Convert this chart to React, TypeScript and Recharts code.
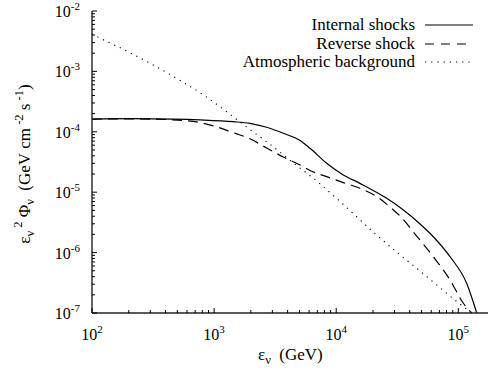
import React from 'react';
import { LineChart, Line, XAxis, YAxis, Legend } from 'recharts';

// Internal shocks (solid)
const internalX = [100, 205, 460, 767, 1435, 1967, 2690, 3690, 5060, 6100, 8350, 11430, 15660, 25900, 35500, 48600, 62400, 85500, 117000, 141500];
const internalY = [1.62e-4, 1.65e-4, 1.62e-4, 1.57e-4, 1.47e-4, 1.38e-4, 1.19e-4, 9.45e-5, 7.18e-5, 5.33e-5, 3.01e-5, 1.93e-5, 1.40e-5, 7.92e-6, 5.07e-6, 2.98e-6, 1.83e-6, 8.55e-7, 3.1e-7, 1.0e-7];

// Reverse shock (dashed)
const reverseX = [100, 205, 460, 767, 1050, 1435, 1967, 2690, 3690, 5060, 6100, 8350, 11430, 15660, 21500, 29400, 33300, 45600, 62400, 85500, 110000, 128800];
const reverseY = [1.62e-4, 1.64e-4, 1.58e-4, 1.42e-4, 1.21e-4, 9.66e-5, 7.66e-5, 5.4e-5, 3.83e-5, 2.82e-5, 2.29e-5, 1.81e-5, 1.44e-5, 1.16e-5, 8.42e-6, 5.07e-6, 4.04e-6, 1.88e-6, 8.55e-7, 3.52e-7, 1.45e-7, 1.0e-7];

// Atmospheric background (dotted)
const atmX = [100, 113, 178, 314, 549, 842, 1267, 1906, 2870, 4320, 6920, 9470, 12970, 20100, 31300, 48600, 75300, 103000, 128800];
const atmY = [4.2e-3, 3.67e-3, 2.35e-3, 1.29e-3, 6.75e-4, 3.92e-4, 2.15e-4, 1.14e-4, 6.21e-5, 3.2e-5, 1.53e-5, 8.8e-6, 4.97e-6, 2.19e-6, 1.02e-6, 4.95e-7, 2.36e-7, 1.41e-7, 1.0e-7];

const seriesNames = ['Internal shocks', 'Reverse shock', 'Atmospheric background'];

const xTicks = [100, 200, 300, 400, 500, 600, 700, 800, 900, 1000, 2000, 3000, 4000, 5000, 6000, 7000, 8000, 9000, 10000, 20000, 30000, 40000, 50000, 60000, 70000, 80000, 90000, 100000];
const yTicks = [1e-7, 2e-7, 3e-7, 4e-7, 5e-7, 6e-7, 7e-7, 8e-7, 9e-7, 1e-6, 2e-6, 3e-6, 4e-6, 5e-6, 6e-6, 7e-6, 8e-6, 9e-6, 1e-5, 2e-5, 3e-5, 4e-5, 5e-5, 6e-5, 7e-5, 8e-5, 9e-5, 1e-4, 2e-4, 3e-4, 4e-4, 5e-4, 6e-4, 7e-4, 8e-4, 9e-4, 1e-3, 2e-3, 3e-3, 4e-3, 5e-3, 6e-3, 7e-3, 8e-3, 9e-3, 1e-2];

const X_DOMAIN: [number, number] = [100, 175000];
const Y_DOMAIN: [number, number] = [1e-7, 1e-2];

const FONT = '"Liberation Serif", "DejaVu Serif", serif';

const toPoints = (xs: number[], ys: number[]) => xs.map((x, i) => ({ x, y: ys[i] }));
const internalData = toPoints(internalX, internalY);
const reverseData = toPoints(reverseX, reverseY);
const atmData = toPoints(atmX, atmY);

const decadeOf = (v: number) => {
  const l = Math.log10(v);
  const e = Math.round(l);
  return { e, major: Math.abs(l - e) < 1e-6 };
};

const BottomTick = (props: any) => {
  const { x, y, payload } = props;
  const { e, major } = decadeOf(payload.value);
  return (
    <g>
      <line x1={x} x2={x} y1={y} y2={y - (major ? 5 : 3)} stroke="#000" strokeWidth={1} />
      {major && (
        <text x={x} y={y + 27} textAnchor="middle" fontSize={16} fontFamily={FONT} fill="#000">
          10<tspan dy={-7} fontSize={11}>{e}</tspan>
        </text>
      )}
    </g>
  );
};

const TopTick = (props: any) => {
  const { x, y, payload } = props;
  const { major } = decadeOf(payload.value);
  return <line x1={x} x2={x} y1={y} y2={y + (major ? 5 : 3)} stroke="#000" strokeWidth={1} />;
};

const LeftTick = (props: any) => {
  const { x, y, payload } = props;
  const { e, major } = decadeOf(payload.value);
  return (
    <g>
      <line x1={x} x2={x + (major ? 5 : 3)} y1={y} y2={y} stroke="#000" strokeWidth={1} />
      {major && (
        <text x={x - 12} y={y + 6} textAnchor="end" fontSize={16} fontFamily={FONT} fill="#000">
          10<tspan dy={-7} fontSize={11}>{`-${Math.abs(e)}`}</tspan>
        </text>
      )}
    </g>
  );
};

const YLabel = () => (
  <text transform="translate(30,164) rotate(-90)" textAnchor="middle" fontSize={17} fontFamily={FONT} fill="#000">
    ε<tspan dy={4} fontSize={12.5}>ν</tspan>
    <tspan dy={-12} fontSize={12.5}>{'\u00a02'}</tspan>
    <tspan dy={8}>{'\u00a0Φ'}</tspan>
    <tspan dy={4} fontSize={12.5}>ν</tspan>
    <tspan dy={-4}>{'\u00a0\u00a0(GeV\u00a0cm'}</tspan>
    <tspan dy={-7} fontSize={12.5}>{'\u00a0-2'}</tspan>
    <tspan dy={7}>{'\u00a0s'}</tspan>
    <tspan dy={-7} fontSize={12.5}>{'\u00a0-1'}</tspan>
    <tspan dy={7}>)</tspan>
  </text>
);

const XLabel = () => (
  <text x={258} y={360} textAnchor="start" fontSize={17} fontFamily={FONT} fill="#000">
    ε<tspan dy={4} fontSize={12.5}>ν</tspan>
    <tspan dy={-4}>{'\u00a0\u00a0(GeV)'}</tspan>
  </text>
);

const legendStyles = [
  { dash: undefined as string | undefined },
  { dash: '9 7' },
  { dash: '1.2 5' },
];

const LegendContent = () => (
  <div style={{ fontFamily: FONT, fontSize: 17, color: '#000' }}>
    {seriesNames.map((name, i) => (
      <div
        key={name}
        style={{ display: 'flex', alignItems: 'center', justifyContent: 'flex-end', height: 18.4, whiteSpace: 'nowrap' }}
      >
        <span style={{ lineHeight: '18px' }}>{name}</span>
        <svg width={58} height={10} style={{ display: 'block' }}>
          <line x1={10} x2={58} y1={5} y2={5} stroke="#000" strokeWidth={1.1} strokeDasharray={legendStyles[i].dash} />
        </svg>
      </div>
    ))}
  </div>
);

export default function App() {
  return (
    <div style={{ position: 'absolute', left: 0, top: 0, width: 488, height: 375, background: '#fff' }}>
      <LineChart width={488} height={375} margin={{ top: 11, right: 0, bottom: 0, left: 0 }}>
        <XAxis
          dataKey="x"
          type="number"
          scale="log"
          domain={X_DOMAIN}
          allowDataOverflow
          ticks={xTicks}
          interval={0}
          height={62}
          tickSize={0}
          tickMargin={0}
          tickLine={false}
          tick={<BottomTick />}
          axisLine={{ stroke: '#222', strokeWidth: 1.4 }}
          label={{ content: () => <XLabel /> }}
        />
        <XAxis
          xAxisId="top"
          orientation="top"
          dataKey="x"
          type="number"
          scale="log"
          domain={X_DOMAIN}
          allowDataOverflow
          ticks={xTicks}
          interval={0}
          height={0}
          tickSize={0}
          tickMargin={0}
          tickLine={false}
          tick={<TopTick />}
          axisLine={{ stroke: '#000', strokeWidth: 1 }}
        />
        <YAxis
          dataKey="y"
          type="number"
          scale="log"
          domain={Y_DOMAIN}
          allowDataOverflow
          ticks={yTicks}
          interval={0}
          width={92}
          tickSize={0}
          tickMargin={0}
          tickLine={false}
          tick={<LeftTick />}
          axisLine={{ stroke: '#222', strokeWidth: 1.4 }}
          label={{ content: () => <YLabel /> }}
        />
        <Legend
          layout="vertical"
          align="center"
          verticalAlign="middle"
          wrapperStyle={{ top: 16, right: 15, left: 'auto', width: 320 }}
          content={<LegendContent />}
        />
        <Line data={internalData} dataKey="y" name={seriesNames[0]} type="monotone" stroke="#000" strokeWidth={1.2} dot={false} isAnimationActive={false} />
        <Line data={reverseData} dataKey="y" name={seriesNames[1]} type="monotone" stroke="#000" strokeWidth={1.2} strokeDasharray="10 6" dot={false} isAnimationActive={false} />
        <Line data={atmData} dataKey="y" name={seriesNames[2]} type="monotone" stroke="#000" strokeWidth={1.1} strokeDasharray="1.2 5" dot={false} isAnimationActive={false} />
      </LineChart>
    </div>
  );
}
